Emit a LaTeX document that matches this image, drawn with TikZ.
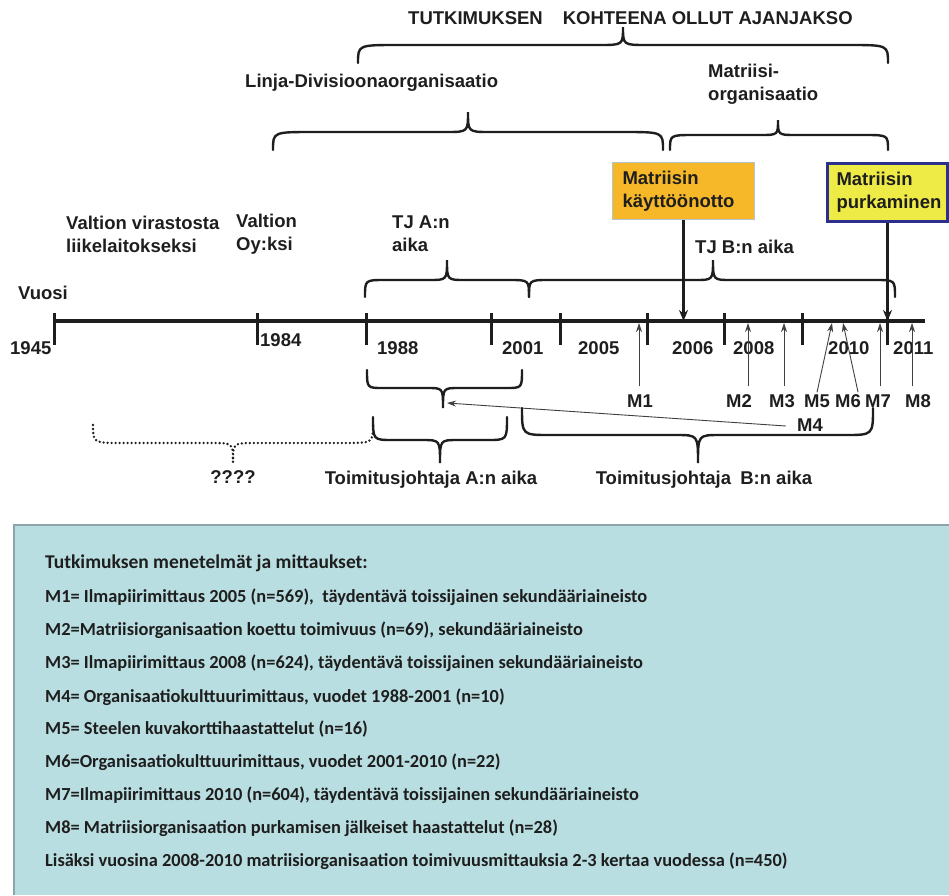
\documentclass[tikz,border=0pt]{standalone}
\usepackage{fontspec}
\setmainfont{Liberation Sans}
\newfontfamily\notefont{Carlito}
\usetikzlibrary{arrows.meta,calc}

\definecolor{ink}{HTML}{1E1E1E}
\definecolor{orangefill}{HTML}{F6B828}
\definecolor{orangeedge}{HTML}{B4C4CC}
\definecolor{yellowfill}{HTML}{EEEA46}
\definecolor{navy}{HTML}{2C308C}
\definecolor{notebg}{HTML}{B9DEE1}
\definecolor{noteedge}{HTML}{8CA5AA}

\tikzset{
  lbl/.style={font=\fontsize{18.5}{23}\selectfont\bfseries, text=ink, inner sep=0pt, align=left},
  brc/.style={draw=ink, line width=2.4pt, line cap=round},
  dotbrc/.style={draw=ink, line width=2.6pt, line cap=round, dash pattern=on 0pt off 4pt},
  tickmark/.style={draw=ink, line width=3pt},
  axis/.style={draw=ink, line width=4pt},
  marrow/.style={draw=ink!85, line width=0.9pt, -{Stealth[length=9pt,width=6pt]}},
  bigarrow/.style={draw=ink, line width=2.6pt, -{Stealth[length=11pt,width=9pt]}},
  note/.style={font=\notefont\fontsize{18.4}{21}\selectfont\bfseries, text=ink, anchor=west, inner sep=0pt},
}

% curly brace: [style]{x left}{x right}{x tip}{y ends}{y bar}{y tip}{end radius}{tip radius}
\newcommand\tlbrace[9][]{%
  \draw[brc,#1] (#2,#5) .. controls (#2,#6) .. ({#2+#8},#6) -- ({#4-#9},#6)
    .. controls (#4,#6) .. (#4,#7) .. controls (#4,#6) .. ({#4+#9},#6)
    -- ({#3-#8},#6) .. controls (#3,#6) .. (#3,#5);}

\begin{document}
\begin{tikzpicture}[x=1pt,y=-1pt]
\useasboundingbox (0,0) rectangle (949,895);

% ---- upper braces and period labels
\node[lbl,anchor=west] (title) at (408,18) {TUTKIMUKSEN\hspace{20pt}KOHTEENA OLLUT AJANJAKSO};
\tlbrace{358}{888}{623}{63}{45}{27}{40}{24}

\node[lbl,anchor=west] (linja) at (245,83) {Linja-Divisioonaorganisaatio};
\node[lbl,anchor=west] (matriisi) at (708,84) {Matriisi-\\organisaatio};
\tlbrace{273}{663}{468}{150}{132}{112}{40}{22}
\tlbrace{670}{888}{778}{150}{135}{120}{24}{18}

% ---- event boxes
\node[lbl, draw=orangeedge, fill=orangefill, line width=1pt, anchor=north west,
      minimum width=142pt, minimum height=57pt, text width=122pt, inner xsep=10pt]
      (kaytto) at (612,162) {Matriisin\\käyttöönotto};
\node[lbl, draw=navy, fill=yellowfill, line width=3pt, anchor=north west,
      minimum width=120pt, minimum height=58pt, text width=102pt, inner xsep=9pt]
      (purku) at (826,162) {Matriisin\\purkaminen};

% ---- labels above the time axis
\node[lbl,anchor=west] (virasto) at (66,234) {Valtion virastosta\\liikelaitokseksi};
\node[lbl,anchor=west] (oy) at (236,234) {Valtion\\Oy:ksi};
\node[lbl,anchor=west] (tja) at (392,234) {TJ A:n\\aika};
\node[lbl,anchor=west] (tjb) at (695,247) {TJ B:n aika};
\node[lbl,anchor=west] (vuosi) at (18,293) {Vuosi};

\tlbrace{365}{529}{447}{297}{280}{260}{20}{18}
\tlbrace{529}{895}{713}{297}{280}{260}{20}{18}

% ---- time axis
\coordinate (tl0) at (54,321);
\coordinate (tl1) at (925,321);
\coordinate (tlb) at (0,323);
\draw[axis] (tl0) -- (tl1);
\foreach \x in {54,257,366,491,560,647,724,802,887}
  \draw[tickmark] (\x,313) -- (\x,345);

\draw[bigarrow] (kaytto.south) -- (kaytto.south |- tl0);
\draw[bigarrow] (purku.south) -- (purku.south |- tl0);

\foreach \yr/\x/\y in {1945/10/348,1984/260/340,1988/377/348,2001/502/348,
                       2005/578/348,2006/672/348,2008/733/348,2010/828/348,2011/893/348}
  \node[lbl,anchor=west] (y\yr) at (\x,\y) {\yr};

% ---- measurement points
\node[lbl] (M1) at (640,401) {M1};
\node[lbl] (M2) at (739,401) {M2};
\node[lbl] (M3) at (782,401) {M3};
\node[lbl] (M5) at (817,401) {M5};
\node[lbl] (M6) at (848,401) {M6};
\node[lbl] (M7) at (878,401) {M7};
\node[lbl] (M8) at (918,401) {M8};
\node[lbl] (M4) at (810,425) {M4};

\coordinate (t1) at (639,323);
\coordinate (t2) at (748,323);
\coordinate (t3) at (784,323);
\coordinate (t5) at (832,323);
\coordinate (t6) at (843,323);
\coordinate (t7) at (880,323);
\coordinate (t8) at (912,323);

\draw[marrow] ([yshift=8pt]M1.north -| t1) -- (t1);
\draw[marrow] ([yshift=8pt]M2.north -| t2) -- (t2);
\draw[marrow] ([yshift=8pt]M3.north -| t3) -- (t3);
\draw[marrow] ([yshift=2pt]M5.north) -- (t5);
\draw[marrow] ([xshift=-3pt,yshift=2pt]M6.north east) -- (t6);
\draw[marrow] ([yshift=8pt]M7.north -| t7) -- (t7);
\draw[marrow] ([yshift=8pt]M8.north -| t8) -- (t8);

% ---- braces below the axis
\tlbrace{367}{522}{443}{370}{388}{408}{16}{16}
\coordinate (atip) at (447,403);
\draw[marrow] ([xshift=-11pt,yshift=-1pt]M4.west) -- (atip);

\tlbrace{373}{507}{440}{417}{440}{463}{20}{18}
\tlbrace[dotbrc]{93}{373}{233}{425}{443}{462}{30}{22}
\tlbrace{522}{873}{698}{408}{435}{463}{28}{22}

\node[lbl] (qq) at (233,477) {????};
\node[lbl] (tjaaika) at (431,480) {Toimitusjohtaja A:n aika};
\node[lbl] (tjbaika) at (704,480) {Toimitusjohtaja\hspace{4pt} B:n aika};

% ---- notes panel
\fill[notebg] (14,525) rectangle (949,895);
\draw[noteedge, line width=2pt] (14,895) -- (14,525) -- (949,525);

\node[note, font=\notefont\fontsize{19.5}{22}\selectfont\bfseries] (n0) at (45,563) {Tutkimuksen menetelmät ja mittaukset:};
\node[note] (n1) at (45,597) {M1= Ilmapiirimittaus 2005 (n=569),\ \ täydentävä toissijainen sekundääriaineisto};
\node[note] (n2) at (45,630) {M2=Matriisiorganisaation koettu toimivuus (n=69), sekundääriaineisto};
\node[note] (n3) at (45,663) {M3= Ilmapiirimittaus 2008 (n=624), täydentävä toissijainen sekundääriaineisto};
\node[note] (n4) at (45,697) {M4= Organisaatiokulttuurimittaus, vuodet 1988-2001 (n=10)};
\node[note] (n5) at (45,729) {M5= Steelen kuvakorttihaastattelut (n=16)};
\node[note] (n6) at (45,762) {M6=Organisaatiokulttuurimittaus, vuodet 2001-2010 (n=22)};
\node[note] (n7) at (45,795) {M7=Ilmapiirimittaus 2010 (n=604), täydentävä toissijainen sekundääriaineisto};
\node[note] (n8) at (45,828) {M8= Matriisiorganisaation purkamisen jälkeiset haastattelut (n=28)};
\node[note] (n9) at (45,861) {Lisäksi vuosina 2008-2010 matriisiorganisaation toimivuusmittauksia 2-3 kertaa vuodessa (n=450)};
\end{tikzpicture}
\end{document}
